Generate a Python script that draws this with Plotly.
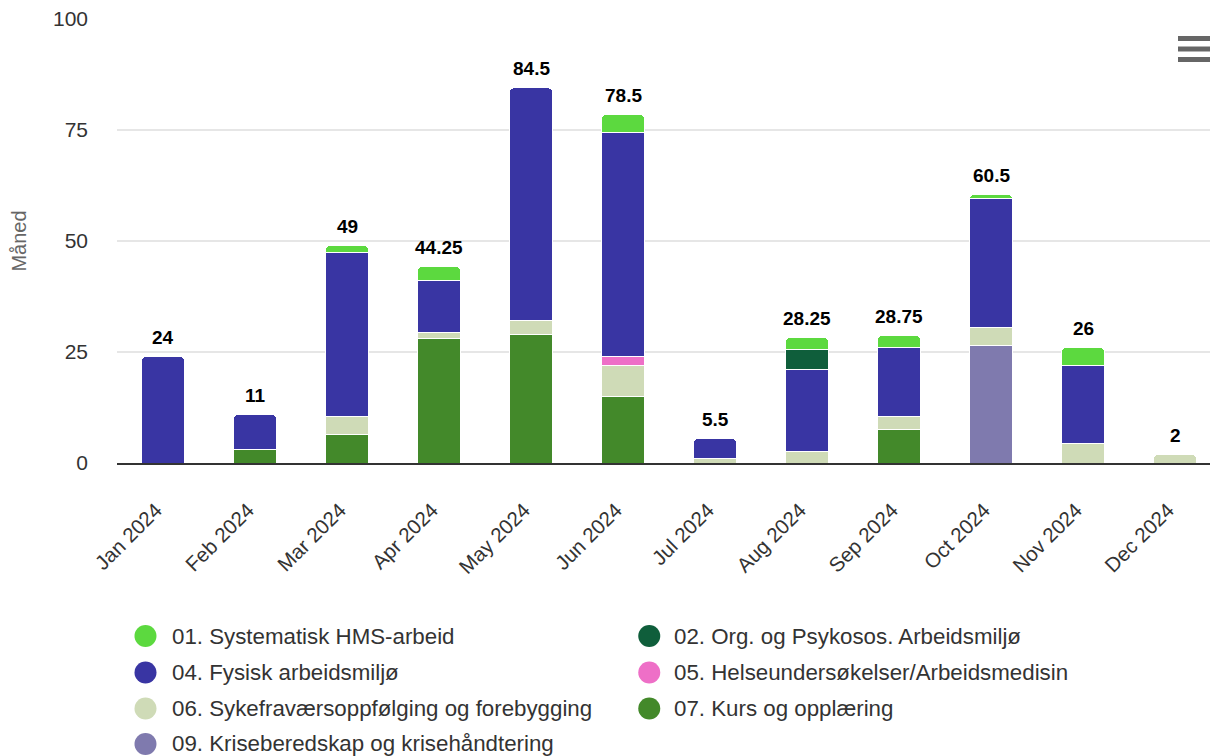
import plotly.graph_objects as go

months = ["Jan 2024", "Feb 2024", "Mar 2024", "Apr 2024", "May 2024", "Jun 2024",
          "Jul 2024", "Aug 2024", "Sep 2024", "Oct 2024", "Nov 2024", "Dec 2024"]

names = {
    "s01": "01. Systematisk HMS-arbeid",
    "s02": "02. Org. og Psykosos. Arbeidsmiljø",
    "s04": "04. Fysisk arbeidsmiljø",
    "s05": "05. Helseundersøkelser/Arbeidsmedisin",
    "s06": "06. Sykefraværsoppfølging og forebygging",
    "s07": "07. Kurs og opplæring",
    "s09": "09. Kriseberedskap og krisehåndtering",
}

s01 = [0, 0, 1.5, 3.25, 0, 4, 0, 2.75, 2.75, 1, 4, 0]
s02 = [0, 0, 0, 0, 0, 0, 0, 4.5, 0, 0, 0, 0]
s04 = [24, 8, 37, 11.5, 52.5, 50.5, 4.5, 18.5, 15.5, 29, 17.5, 0]
s05 = [0, 0, 0, 0, 0, 2, 0, 0, 0, 0, 0, 0]
s06 = [0, 0, 4, 1.5, 3, 7, 1, 2.5, 3, 4, 4.5, 2]
s07 = [0, 3, 6.5, 28, 29, 15, 0, 0, 7.5, 0, 0, 0]
s09 = [0, 0, 0, 0, 0, 0, 0, 0, 0, 26.5, 0, 0]

colors = {
    "s01": "#5cd93f",
    "s02": "#0f5e3b",
    "s04": "#3935a3",
    "s05": "#ee6fc7",
    "s06": "#cfdbb7",
    "s07": "#43892a",
    "s09": "#7f7aae",
}

series = {"s01": s01, "s02": s02, "s04": s04, "s05": s05, "s06": s06, "s07": s07, "s09": s09}
stack_order = ["s09", "s07", "s06", "s05", "s04", "s02", "s01"]   # bottom -> top
legend_order = ["s01", "s02", "s04", "s05", "s06", "s07", "s09"]

FONT = "Liberation Sans, Arial, sans-serif"
W, H = 1210, 756
L, R, T, B = 116.5, 1210, 19, 463
STEP = 92.05

def px(x):
    return (x - L) / (R - L)

def py(y):
    return (B - y) / (B - T)

fig = go.Figure()
for key in stack_order:
    vals = [v if v else None for v in series[key]]
    fig.add_trace(go.Bar(
        x=months, y=vals, name=names[key],
        marker=dict(color=colors[key], line=dict(color="white", width=1)),
        width=0.475, showlegend=False,
    ))

totals = [sum(series[k][i] for k in series) for i in range(len(months))]
annotations = []
for m, t in zip(months, totals):
    annotations.append(dict(
        x=m, y=t, xref="x", yref="y", text=f"{t:g}", showarrow=False,
        yanchor="middle", yshift=19,
        font=dict(family=FONT, size=19, color="#000000", weight="bold"),
    ))

# manual legend (two columns, circle symbols)
shapes = []
col_x = [(145, 170), (649, 672)]
row_y = [636, 672.5, 708.5, 744]
for i, key in enumerate(legend_order):
    cx, tx = col_x[i % 2]
    cy = row_y[i // 2]
    shapes.append(dict(
        type="circle", xref="paper", yref="paper",
        xsizemode="pixel", ysizemode="pixel",
        xanchor=px(cx), yanchor=py(cy), x0=-11, x1=11, y0=-11, y1=11,
        fillcolor=colors[key], line=dict(width=0),
    ))
    annotations.append(dict(
        x=px(tx), y=py(cy), xref="paper", yref="paper", text=names[key],
        showarrow=False, xanchor="left", yanchor="middle",
        font=dict(family=FONT, size=22.3, color="#333333"),
    ))

# burger menu icon
for yc in [38.5, 49, 59.5]:
    shapes.append(dict(
        type="rect", xref="paper", yref="paper",
        x0=px(1178), x1=px(1210), y0=py(yc + 2.5), y1=py(yc - 2.5),
        fillcolor="#666666", line=dict(width=0),
    ))

fig.update_layout(
    width=W, height=H,
    margin=dict(l=L, r=W - R, t=T, b=H - B, autoexpand=False),
    barmode="stack",
    barcornerradius=5,
    plot_bgcolor="white", paper_bgcolor="white",
    font=dict(family=FONT, color="#333333"),
    annotations=annotations,
    shapes=shapes,
    xaxis=dict(
        type="category",
        range=[-0.5, (R - L) / STEP - 0.5],
        tickangle=-45,
        tickfont=dict(size=20.5, color="#333333"),
        ticklabelstandoff=25,
        ticklabelshift=-7,
        showline=True, linecolor="#333333", linewidth=2,
        showgrid=False, ticks="",
    ),
    yaxis=dict(
        range=[0, 100],
        tickvals=[0, 25, 50, 75, 100],
        tickfont=dict(size=21, color="#333333"),
        ticklabelstandoff=28,
        gridcolor="#e6e6e6", gridwidth=1.5,
        zeroline=False, showline=False, ticks="",
        title=dict(text="Måned", font=dict(size=20, color="#666666"), standoff=20),
    ),
)

fig.write_html("out.html", config={"displayModeBar": False},
               post_script="document.body.style.margin='0';")
